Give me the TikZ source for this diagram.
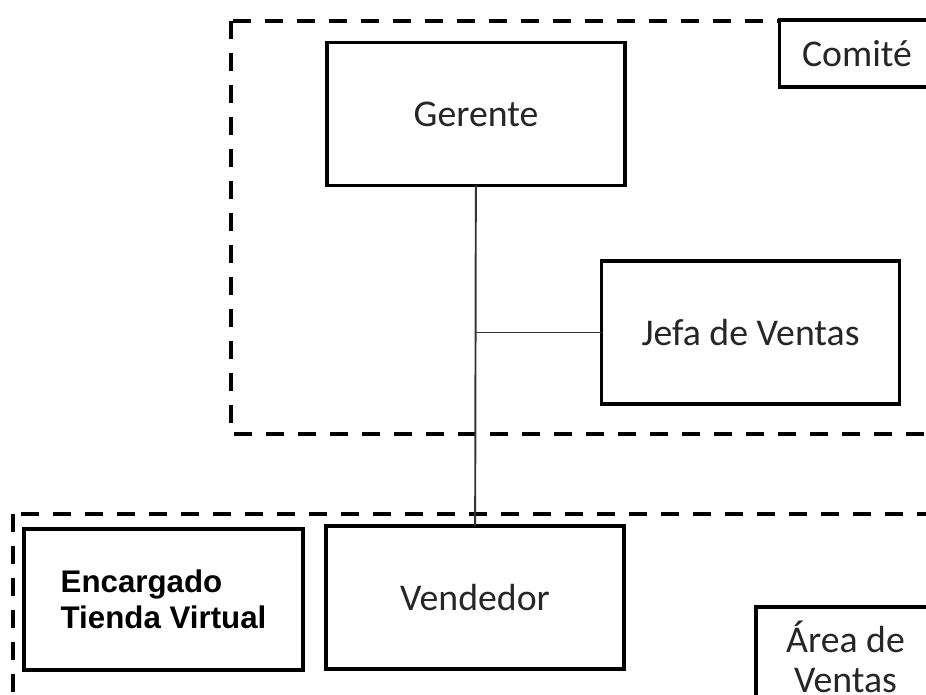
\documentclass[tikz,border=0pt]{standalone}
\usepackage{fontspec}
\setmainfont{Carlito}
\newfontfamily\boxfont{Liberation Sans}

\begin{document}
\begin{tikzpicture}[x=0.02cm,y=-0.02cm,
    cargo/.style={draw=black,line width=2pt,fill=white,inner sep=0pt,outer sep=0pt,
      text=black!85,font=\fontsize{21.5}{22.7}\selectfont,align=center,
      minimum width=5.96cm,minimum height=2.86cm},
    zona/.style={draw=black,line width=2.2pt,dash pattern=on 0.36cm off 0.28cm},
    enlace/.style={draw=black!80,line width=1.1pt}]
		\useasboundingbox (0,0) rectangle (926,695);
		\clip (0,0) rectangle (926,695);

		% comite y area de ventas
		\draw[zona] (231,21) rectangle (980,434);
		\draw[zona] (13,514) rectangle (980,760);

		\node[cargo] (gerente) at (476,114) {Gerente};
		\node[cargo] (jefa) at (750.5,332.5) {Jefa de Ventas};
		\node[cargo] (vendedor) at (475,597.5) {Vendedor};
		\node[cargo,line width=2.8pt,text=black,minimum width=5.58cm,minimum height=2.82cm,
		  align=left,font=\boxfont\bfseries\fontsize{17.8}{20.4}\selectfont]
		  (encargado) at (163.5,599.5) {Encargado\\Tienda Virtual};

		\node[cargo,minimum width=3.1cm,minimum height=1.34cm] (comite) at (857,53.5) {Comité};
		\node[cargo,minimum width=3.58cm,minimum height=2.0cm] (area) at (845.5,657) {Área de\\Ventas};

		\draw[enlace] (gerente) -- (vendedor);
		\draw[enlace] (gerente.south |- jefa.west) -- (jefa);
	\end{tikzpicture}
\end{document}
